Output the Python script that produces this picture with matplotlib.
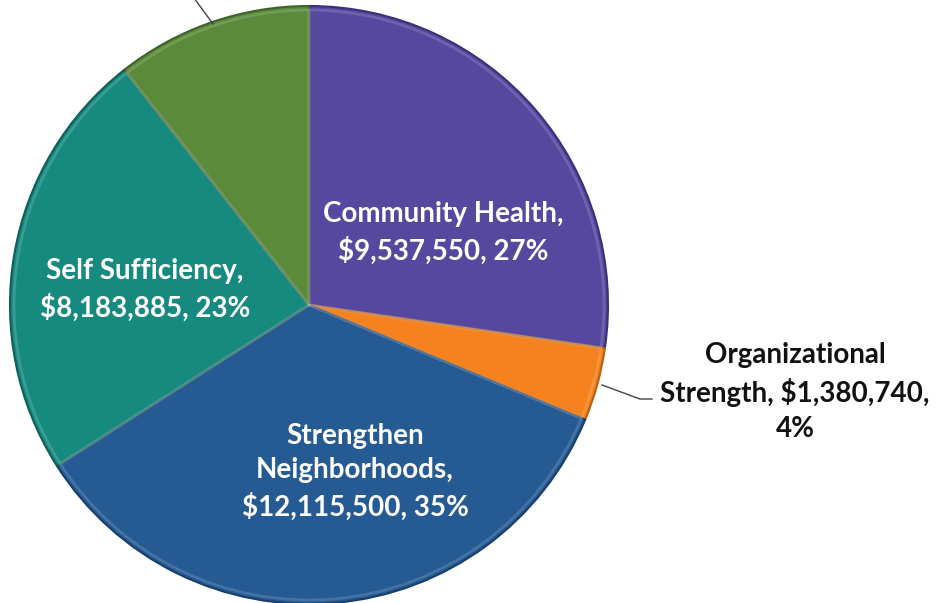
import matplotlib
matplotlib.use("Agg")
import matplotlib.pyplot as plt
import numpy as np

# Data (clockwise from 12 o'clock)
categories = ["Community Health", "Organizational Strength", "Strengthen Neighborhoods",
              "Self Sufficiency", ""]
values = [9537550, 1380740, 12115500, 8183885, 3700000]   # last value estimated (label cut off)
pct_labels = ["27%", "4%", "35%", "23%", "11%"]
colors = ["#56479f", "#f5821f", "#255a93", "#178a7f", "#5b8a3b"]
edge_colors = ["#3c2f78", "#b85f10", "#173f6c", "#0e5f57", "#3e6328"]

W, H = 941, 603
fig = plt.figure(figsize=(W / 100, H / 100), dpi=100)
ax = fig.add_axes([0, 0, 1, 1])

cx, cy, r = 309, H - 305, 299
wedges, _ = ax.pie(values, colors=colors, startangle=90, counterclock=False,
                   center=(cx, cy), radius=r, frame=True,
                   wedgeprops=dict(linewidth=1.5))
for w, ec in zip(wedges, edge_colors):
    w.set_edgecolor(ec)
# bevel highlight rim
ax.pie(values, colors=["none"] * len(values), startangle=90, counterclock=False,
       center=(cx, cy), radius=r - 4, frame=True,
       wedgeprops=dict(linewidth=2.0, edgecolor=(1, 1, 1, 0.15), fill=False))
ax.set_xlim(0, W)
ax.set_ylim(0, H)
ax.set_aspect("equal")
ax.axis("off")

font = dict(family="Lato", fontweight="bold", fontsize=20, linespacing=1.42,
            ha="center", va="center")

def money(v):
    return "${:,}".format(v)

# inside labels
ax.text(443, H - 233, f"{categories[0]},\n{money(values[0])}, {pct_labels[0]}",
        color="white", **font)
ax.text(145, H - 290, f"{categories[3]},\n{money(values[3])}, {pct_labels[3]}",
        color="white", **font)
ax.text(355, H - 472, "Strengthen\nNeighborhoods,\n" + f"{money(values[2])}, {pct_labels[2]}",
        color="white", **font)

# outside label with leader line
ax.text(795, H - 392, "Organizational\nStrength, " + f"{money(values[1])},\n{pct_labels[1]}",
        color="#111111", **font)
ax.plot([602, 640, 652], [H - 385, H - 399, H - 399], color="#444444", lw=1)

# leader line for the cut-off top label
ax.plot([213, 194], [H - 24, H + 2], color="#444444", lw=1, clip_on=True)

fig.savefig("out.png", dpi=100)
